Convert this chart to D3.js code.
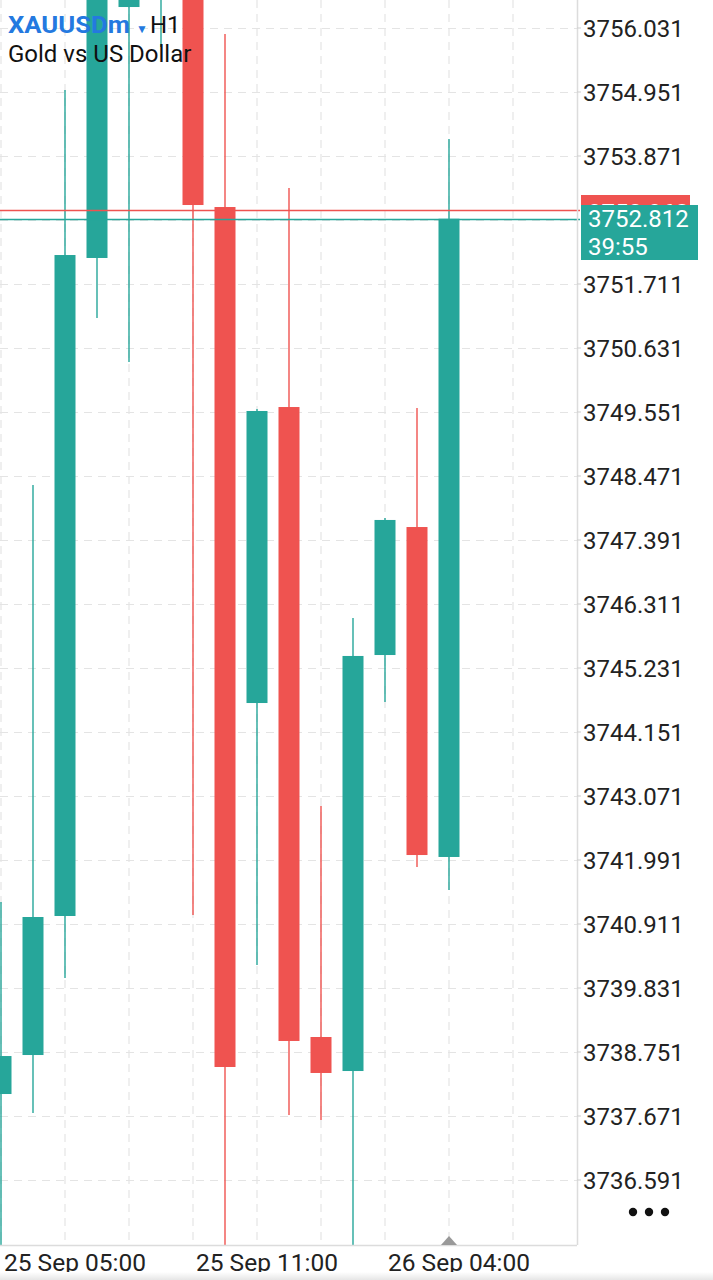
<!DOCTYPE html>
<html>
<head>
<meta charset="utf-8">
<script src="https://cdn.jsdelivr.net/npm/d3@7"></script>
<style>
  html, body { margin: 0; padding: 0; background: #fff; }
  svg { display: block; font-family: Roboto, "Noto Sans", sans-serif; }
</style>
</head>
<body>
<svg id="chart" width="713" height="1280"></svg>
<script>
// XAUUSDm H1 candles, oldest -> newest
const opens  = [3738.042, 3738.700, 3741.046, 3752.150, 3756.385, 3757.600, 3758.400, 3753.010, 3744.640, 3749.635, 3739.004, 3738.430, 3745.450, 3747.610, 3742.042];
const closes = [3738.683, 3741.029, 3752.200, 3757.200, 3758.000, 3758.500, 3753.044, 3738.498, 3749.568, 3738.937, 3738.397, 3745.434, 3747.729, 3742.075, 3752.812];
const highs  = [3741.282, 3748.319, 3754.985, 3757.600, 3758.400, 3758.800, 3758.700, 3755.930, 3749.602, 3753.331, 3742.902, 3746.075, 3747.762, 3749.619, 3754.158];
const lows   = [3735.200, 3737.722, 3740.000, 3751.137, 3750.395, 3755.711, 3741.063, 3735.000, 3740.219, 3737.688, 3737.603, 3735.300, 3744.657, 3741.873, 3741.485];

const priceTicks = [3756.031, 3754.951, 3753.871, 3751.711, 3750.631, 3749.551, 3748.471, 3747.391,
                    3746.311, 3745.231, 3744.151, 3743.071, 3741.991, 3740.911, 3739.831, 3738.751,
                    3737.671, 3736.591];
const gridTicks = [3756.031, 3754.951, 3753.871, 3752.791, 3751.711, 3750.631, 3749.551, 3748.471, 3747.391,
                   3746.311, 3745.231, 3744.151, 3743.071, 3741.991, 3740.911, 3739.831, 3738.751,
                   3737.671, 3736.591];
const timeTickIndex = [0, 6, 12];
const timeTickLabels = ['25 Sep 05:00', '25 Sep 11:00', '26 Sep 04:00'];
const vGridIndex = [0, 2, 4, 6, 8, 10, 12, 14, 16];

const bidPrice = 3752.812;
const askPrice = 3752.968;
const timer = '39:55';

const UP = '#26a69a', DOWN = '#ef5350';
const plotW = 577, plotH = 1245;

const svg = d3.select('#chart');

const x = d3.scaleLinear().domain([0, 14]).range([1, 449]);
const y = d3.scaleLinear().domain([3741.991, 3756.031]).range([860, 28]);
const bodyW = 21;

svg.append('defs').append('clipPath').attr('id', 'plotClip')
  .append('rect').attr('x', 0).attr('y', 0).attr('width', plotW).attr('height', plotH);

// grid
const grid = svg.append('g').attr('clip-path', 'url(#plotClip)');
grid.selectAll('line.h').data(gridTicks).join('line')
  .attr('x1', 0).attr('x2', plotW)
  .attr('y1', d => Math.round(y(d)) + 0.5).attr('y2', d => Math.round(y(d)) + 0.5)
  .attr('stroke', '#e4e4e4').attr('stroke-width', 1.2).attr('stroke-dasharray', '8,6');
grid.selectAll('line.v').data(vGridIndex).join('line')
  .attr('x1', d => x(d)).attr('x2', d => x(d))
  .attr('y1', 0).attr('y2', plotH)
  .attr('stroke', '#e4e4e4').attr('stroke-width', 1.2).attr('stroke-dasharray', '8,6');

// candles
const candles = opens.map((o, i) => ({ i, o, c: closes[i], h: highs[i], l: lows[i] }));
const cg = svg.append('g').attr('clip-path', 'url(#plotClip)');
cg.selectAll('line.wick').data(candles).join('line')
  .attr('x1', d => x(d.i)).attr('x2', d => x(d.i))
  .attr('y1', d => y(d.h)).attr('y2', d => y(d.l))
  .attr('stroke', d => d.c >= d.o ? UP : DOWN).attr('stroke-width', 1.4);
cg.selectAll('rect.body').data(candles).join('rect')
  .attr('x', d => x(d.i) - bodyW / 2)
  .attr('width', bodyW)
  .attr('y', d => y(Math.max(d.o, d.c)))
  .attr('height', d => Math.max(1, Math.abs(y(d.o) - y(d.c))))
  .attr('fill', d => d.c >= d.o ? UP : DOWN);

// current price lines
const askY = Math.round(y(askPrice)) + 0.5;
const bidY = Math.round(y(bidPrice)) + 0.5;
svg.append('line').attr('x1', 0).attr('x2', 580)
  .attr('y1', askY).attr('y2', askY)
  .attr('stroke', DOWN).attr('stroke-width', 1.3);
svg.append('line').attr('x1', 0).attr('x2', 580)
  .attr('y1', bidY).attr('y2', bidY)
  .attr('stroke', UP).attr('stroke-width', 1.6);

// plot borders
svg.append('line').attr('x1', plotW + 0.5).attr('x2', plotW + 0.5).attr('y1', 0).attr('y2', plotH)
  .attr('stroke', '#dcdcdc').attr('stroke-width', 1.5);
svg.append('line').attr('x1', 0).attr('x2', plotW).attr('y1', plotH + 0.5).attr('y2', plotH + 0.5)
  .attr('stroke', '#dcdcdc').attr('stroke-width', 1.5);

// price axis
const pa = svg.append('g');
pa.selectAll('text').data(priceTicks).join('text')
  .attr('x', 583).attr('y', d => y(d)).attr('dy', '0.36em')
  .attr('font-size', 24).attr('fill', '#222')
  .text(d => d.toFixed(3));
pa.selectAll('line').data(priceTicks).join('line')
  .attr('x1', plotW).attr('x2', plotW + 4)
  .attr('y1', d => y(d)).attr('y2', d => y(d))
  .attr('stroke', '#cfcfcf');

// ask label (mostly hidden under bid label) and bid label
svg.append('rect').attr('x', 581).attr('y', 195).attr('width', 109).attr('height', 24).attr('fill', DOWN);
svg.append('text').attr('x', 588).attr('y', y(askPrice) + 3).attr('dy', '0.36em')
  .attr('font-size', 24).attr('fill', '#fff').text(askPrice.toFixed(3));
svg.append('rect').attr('x', 581).attr('y', 205).attr('width', 117).attr('height', 55).attr('fill', UP);
svg.append('text').attr('x', 588).attr('y', y(bidPrice)).attr('dy', '0.36em')
  .attr('font-size', 24).attr('fill', '#fff').text(bidPrice.toFixed(3));
svg.append('text').attr('x', 588).attr('y', 246).attr('dy', '0.36em')
  .attr('font-size', 24).attr('fill', '#fff').text(timer);

// time axis
svg.append('g').selectAll('text').data(timeTickIndex).join('text')
  .attr('x', d => x(d) + 3).attr('y', 1262).attr('dy', '0.36em')
  .attr('font-size', 24.5).attr('fill', '#222')
  .text((d, k) => timeTickLabels[k]);

// current bar marker
const mx = x(14);
svg.append('path')
  .attr('d', `M${mx - 8},${plotH} L${mx},${plotH - 9} L${mx + 8},${plotH} Z`)
  .attr('fill', '#999');

// menu dots
svg.append('g').selectAll('circle').data([0, 1, 2]).join('circle')
  .attr('cx', d => 633 + d * 16).attr('cy', 1212).attr('r', 4.2).attr('fill', '#111');

// bottom shade
const grad = svg.select('defs').append('linearGradient').attr('id', 'shade')
  .attr('x1', 0).attr('x2', 0).attr('y1', 0).attr('y2', 1);
grad.append('stop').attr('offset', 0).attr('stop-color', '#fff');
grad.append('stop').attr('offset', 1).attr('stop-color', '#e6e6e6');
svg.append('rect').attr('x', 0).attr('y', 1272).attr('width', 713).attr('height', 8).attr('fill', 'url(#shade)');

// header
const hd = svg.append('g');
const t1 = hd.append('text').attr('x', 8).attr('y', 24).attr('dy', '0.36em')
  .attr('font-size', 24);
t1.append('tspan').attr('font-weight', 700).attr('fill', '#2479e0')
  .attr('textLength', 122).attr('lengthAdjust', 'spacingAndGlyphs').text('XAUUSDm');
t1.append('tspan').attr('dx', 6).attr('font-size', 12).attr('fill', '#2479e0').text('▼');
t1.append('tspan').attr('dx', 2).attr('fill', '#111').text('H1');
hd.append('text').attr('x', 8).attr('y', 53).attr('dy', '0.36em')
  .attr('font-size', 24).attr('fill', '#111').text('Gold vs US Dollar');
</script>
</body>
</html>
